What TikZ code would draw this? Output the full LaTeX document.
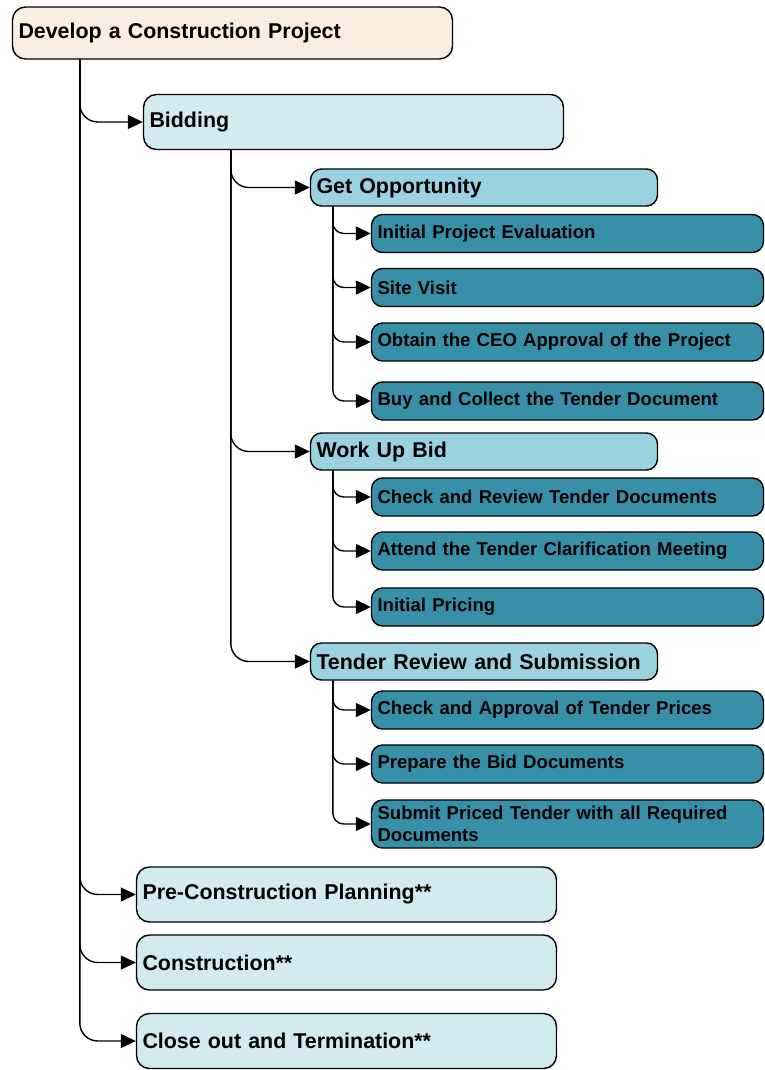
\documentclass[tikz,border=0pt]{standalone}
\usepackage{fontspec}
\setmainfont{Liberation Sans}
\usepackage{tikz}
\usetikzlibrary{arrows.meta}

\definecolor{rootfill}{RGB}{252,237,225}
\definecolor{phasefill}{RGB}{210,234,240}
\definecolor{stagefill}{RGB}{155,210,224}
\definecolor{taskfill}{RGB}{55,144,168}

\tikzset{
    box/.style={draw, line width=1.4pt, inner xsep=6pt, align=left, font=\bfseries},
    rootbox/.style={box, fill=rootfill, rounded corners=13pt, text width=428pt, minimum height=52pt, font=\fontsize{21.4}{24}\selectfont\bfseries},
    phasebox/.style={box, fill=phasefill, rounded corners=13pt, text width=408pt, minimum height=55pt, font=\fontsize{21.4}{24}\selectfont\bfseries},
    stagebox/.style={box, fill=stagefill, rounded corners=11pt, text width=335pt, minimum height=37pt, font=\fontsize{21.4}{24}\selectfont\bfseries},
    taskbox/.style={box, fill=taskfill, rounded corners=11pt, text width=380pt, minimum height=38pt, font=\fontsize{18.6}{22}\selectfont\bfseries},
    link/.style={line width=1.4pt, rounded corners=18pt, -{Triangle[length=15pt,width=14pt]}},
    sublink/.style={link, rounded corners=11pt}
}

\begin{document}
\begin{tikzpicture}[x=1pt, y=-1pt]
                \useasboundingbox (0,0) rectangle (765,1070);

                % Nodes
                \node[rootbox] (root) at (232.5,33) {Develop a Construction Project};
                \node[phasebox] (bid) at (353.5,122) {Bidding};
                \node[phasebox] (pre) at (346.5,894.5) {Pre-Construction Planning**};
                \node[phasebox] (con) at (346.5,962.5) {Construction**};
                \node[phasebox] (close) at (346.5,1041) {Close out and Termination**};

                \node[stagebox] (getop) at (484,187.5) {Get Opportunity};
                \node[stagebox] (work) at (484,451.5) {Work Up Bid};
                \node[stagebox] (tender) at (484,661.5) {Tender Review and Submission};

                \node[taskbox] (eval) at (567.5,233.5) {Initial Project Evaluation};
                \node[taskbox] (site) at (567.5,287.5) {Site Visit};
                \node[taskbox] (ceo) at (567.5,342) {Obtain the CEO Approval of the Project};
                \node[taskbox] (buy) at (567.5,401) {Buy and Collect the Tender Document};
                \node[taskbox] (review) at (567.5,497) {Check and Review Tender Documents};
                \node[taskbox] (meeting) at (567.5,551) {Attend the Tender Clarification Meeting};
                \node[taskbox] (pricing) at (567.5,607) {Initial Pricing};
                \node[taskbox] (approval) at (567.5,710) {Check and Approval of Tender Prices};
                \node[taskbox] (prepare) at (567.5,764) {Prepare the Bid Documents};
                \node[taskbox, minimum height=48pt] (submit) at (567.5,824) {Submit Priced Tender with all Required\\Documents};

                % Edges
                \draw[link] ([xshift=68pt]root.south west) |- (bid.west);
                \draw[link] ([xshift=68pt]root.south west) |- (pre.west);
                \draw[link] ([xshift=68pt]root.south west) |- (con.west);
                \draw[link] ([xshift=68pt]root.south west) |- (close.west);

                \draw[link] ([xshift=88pt]bid.south west) |- (getop.west);
                \draw[link] ([xshift=88pt]bid.south west) |- (work.west);
                \draw[link] ([xshift=88pt]bid.south west) |- (tender.west);

                \draw[sublink] ([xshift=23pt]getop.south west) |- (eval.west);
                \draw[sublink] ([xshift=23pt]getop.south west) |- (site.west);
                \draw[sublink] ([xshift=23pt]getop.south west) |- (ceo.west);
                \draw[sublink] ([xshift=23pt]getop.south west) |- (buy.west);

                \draw[sublink] ([xshift=23pt]work.south west) |- (review.west);
                \draw[sublink] ([xshift=23pt]work.south west) |- (meeting.west);
                \draw[sublink] ([xshift=23pt]work.south west) |- (pricing.west);

                \draw[sublink] ([xshift=23pt]tender.south west) |- (approval.west);
                \draw[sublink] ([xshift=23pt]tender.south west) |- (prepare.west);
                \draw[sublink] ([xshift=23pt]tender.south west) |- (submit.west);
            \end{tikzpicture}
\end{document}
